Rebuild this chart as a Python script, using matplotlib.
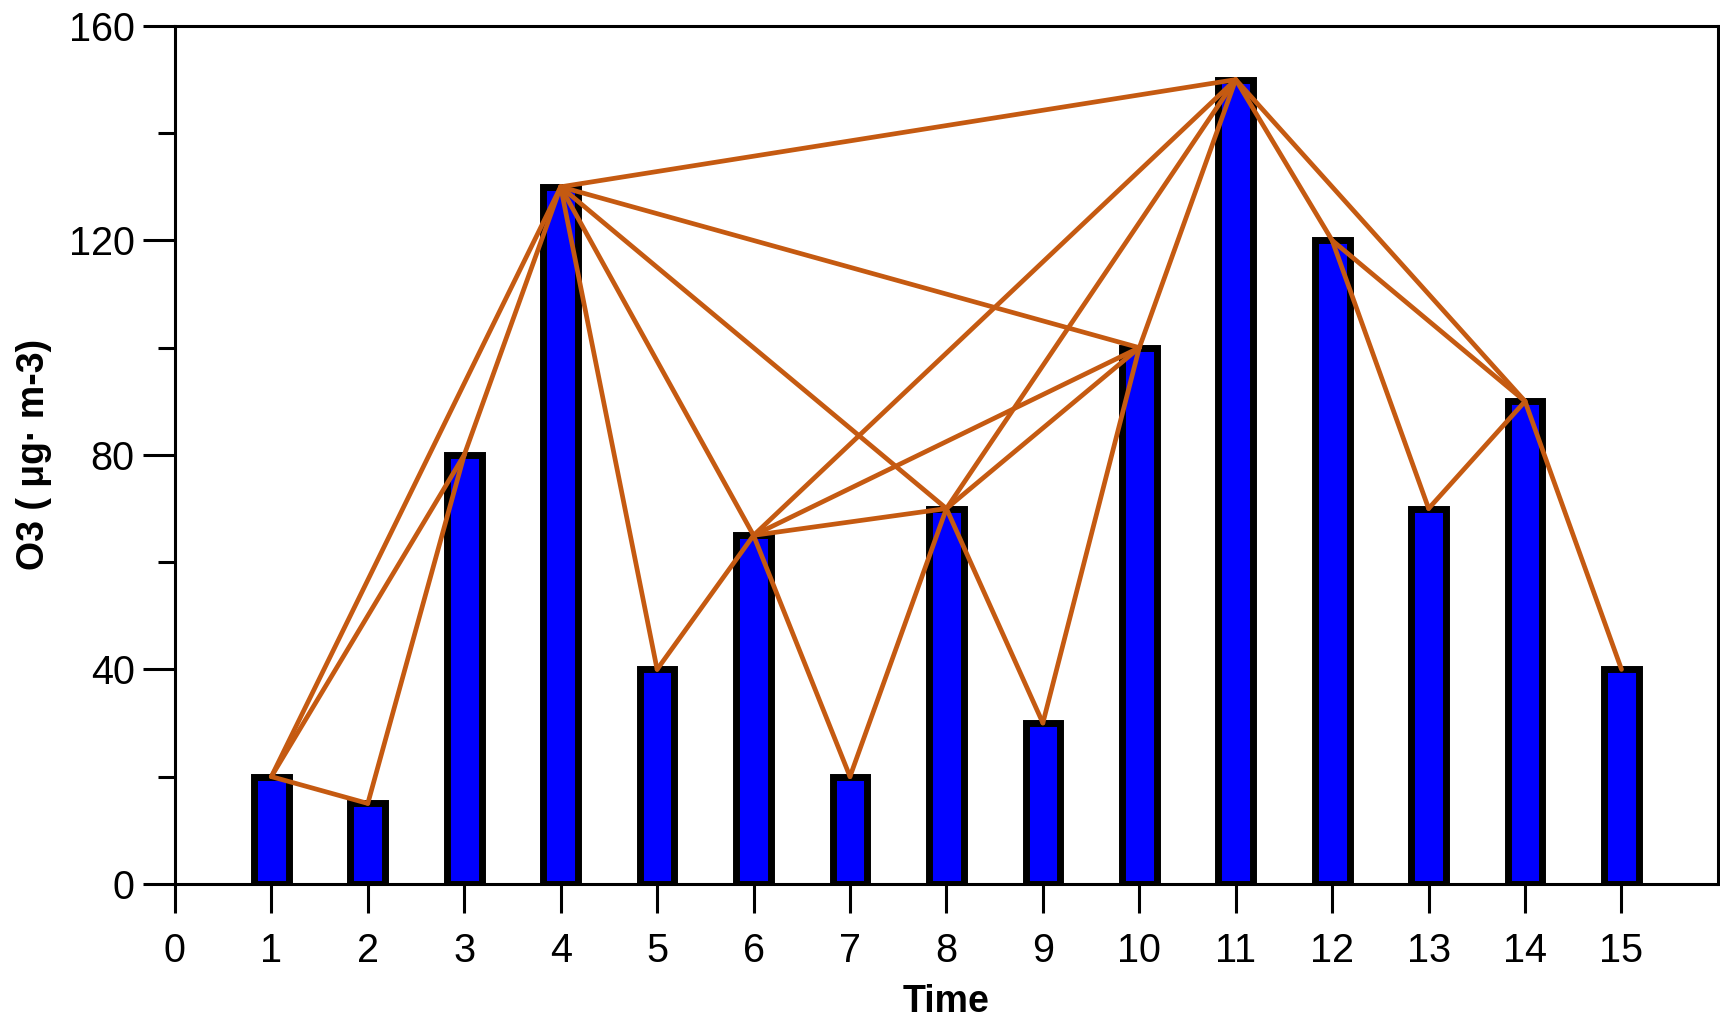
import matplotlib
matplotlib.use("Agg")
import matplotlib.pyplot as plt
from matplotlib.ticker import MultipleLocator

plt.rcParams['font.family'] = ['Liberation Sans', 'DejaVu Sans']

time = [1, 2, 3, 4, 5, 6, 7, 8, 9, 10, 11, 12, 13, 14, 15]
o3 = [20, 15, 80, 130, 40, 65, 20, 70, 30, 100, 150, 120, 70, 90, 40]
edges = [(1, 2), (1, 3), (1, 4), (2, 3), (3, 4),
         (4, 5), (4, 6), (4, 8), (4, 10), (4, 11),
         (5, 6), (6, 7), (6, 8), (6, 10), (6, 11),
         (7, 8), (8, 9), (8, 10), (8, 11), (9, 10), (10, 11),
         (11, 12), (11, 14), (12, 13), (12, 14), (13, 14), (14, 15)]
xticks = list(range(0, 16))
yticks = [0, 40, 80, 120, 160]

fig = plt.figure(figsize=(17.2, 10.23), dpi=100)
ax = fig.add_axes([0.1017, 0.136, 0.8971, 0.8386])

ax.bar(time, o3, width=0.36, color='#0000FF', edgecolor='black', linewidth=5.0, zorder=2)

val = dict(zip(time, o3))
for a, b in edges:
    ax.plot([a, b], [val[a], val[b]], color='#C55A11', linewidth=3.4,
            solid_capstyle='round', zorder=3)

ax.set_xlim(0, 16)
ax.set_ylim(0, 160)
ax.set_xticks(xticks)
ax.set_yticks(yticks)
ax.yaxis.set_minor_locator(MultipleLocator(20))
ax.tick_params(axis='both', which='major', direction='out', width=2.2, labelsize=28.5)
ax.tick_params(axis='x', which='major', length=21, pad=14)
ax.tick_params(axis='y', which='major', length=23, pad=6)
ax.tick_params(axis='y', which='minor', length=12, width=2.2)
for s in ax.spines.values():
    s.set_linewidth(2.2)

ax.set_xlabel('Time', fontsize=27, fontweight='bold', labelpad=10)
ax.set_ylabel('O3 ( μg· m-3)', fontsize=27, fontweight='bold', labelpad=12)

fig.savefig('out.png', dpi=100)
